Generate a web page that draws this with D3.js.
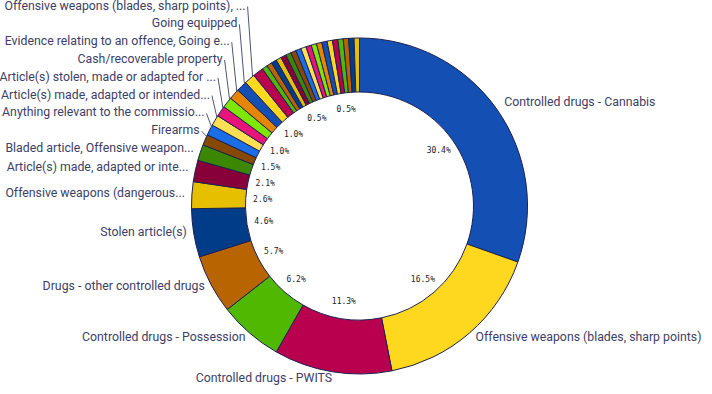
<!DOCTYPE html>
<html>
<head>
<meta charset="utf-8">
<script src="https://cdn.jsdelivr.net/npm/d3@7"></script>
<style>
  body { margin: 0; background: #fff; }
  svg { display: block; }
</style>
</head>
<body>
<div id="chart"></div>
<script>
// search object categories, in chart order (largest first)
const categories = [
    'Controlled drugs - Cannabis',
    'Offensive weapons (blades, sharp points)',
    'Controlled drugs - PWITS',
    'Controlled drugs - Possession',
    'Drugs - other controlled drugs',
    'Stolen article(s)',
    'Offensive weapons (dangerous...',
    'Article(s) made, adapted or inte...',
    'Bladed article, Offensive weapon...',
    'Firearms',
    'Anything relevant to the commissio...',
    'Article(s) made, adapted or intended...',
    'Article(s) stolen, made or adapted for ...',
    'Cash/recoverable property',
    'Evidence relating to an offence, Going e...',
    'Going equipped',
    'Offensive weapons (blades, sharp points), ...',
    'Evidence relating to an offence, Stolen article(s)',
    'Controlled drugs - Cannabis, Firearms',
    'Psychoactive substances',
    'Fireworks',
    'Anything relevant to the commission, Firearms',
    'Article(s) for use in criminal damage',
    'Controlled drugs - Cannabis, Stolen article(s)',
    'Going equipped, Stolen article(s)',
    'Offensive weapons (dangerous), Stolen article(s)',
    'Drugs - other controlled drugs, Firearms',
    'Controlled drugs - Possession, Stolen article(s)',
    'Evidence of wildlife offences',
    'Cash/recoverable property, Stolen article(s)',
    'Bladed article, Firearms',
    'Controlled drugs - PWITS, Cash/recoverable property',
    'Ammunition',
    'Articles for use in fraud',
    'Evidence relating to terrorism',
    'Controlled drugs - Possession, Firearms',
    'Other'
];

// number of searches per category
const counts = [
    59, 32, 22, 12, 11, 9, 5, 4, 3,
    2, 2, 2, 2, 2, 2, 2, 2, 2,
    1, 1, 1, 1, 1, 1, 1, 1, 1, 1, 1, 1, 1, 1, 1, 1, 1, 1, 1
];

const palette = [
    '#1450b4', '#fdd81f', '#b8004f', '#50b800', '#b86400',
    '#003c88', '#e6c000', '#87003a', '#3b8700', '#874900',
    '#1a6ee8', '#ffe052', '#e6147b', '#7ee600', '#e68600'
];

let width = 712,
    height = 394,
    cx = 359.5,
    cy = 206,
    rOuter = 168,
    rInner = 114;

let svg = d3.select('#chart').append('svg')
    .attr('width', width)
    .attr('height', height);

let g = svg.append('g')
    .attr('transform', `translate(${cx}, ${cy})`);

let total = d3.sum(counts);
let data = categories.map((name, i) => ({name: name, count: counts[i]}));

let color = d3.scaleOrdinal()
    .domain(categories)
    .range(palette);

let pie = d3.pie()
    .sort(null)
    .value(d => d.count);

let arc = d3.arc()
    .innerRadius(rInner)
    .outerRadius(rOuter);

let arcs = pie(data);

function polar(r, a) {
    return [r * Math.sin(a), -r * Math.cos(a)];
}

g.append('g').selectAll('path')
    .data(arcs)
    .join('path')
    .attr('d', arc)
    .attr('fill', d => color(d.data.name))
    .attr('stroke', '#1d2150')
    .attr('stroke-width', 1);

// percentage labels inside the ring, pushed clockwise a little or dropped when crowded
let pctFmt = d3.format('.1%');
let labR = 97,
    maxShift = 8 * Math.PI / 180,
    step = 0.2 * Math.PI / 180,
    placed = [];

arcs.forEach(d => {
    let txt = pctFmt(d.data.count / total),
        w = txt.length * 4.8 + 10,
        h = 16,
        mid = (d.startAngle + d.endAngle) / 2;
    for (let s = 0; s <= maxShift; s += step) {
        let a = mid + s;
        if (a > 2 * Math.PI - 0.02) break;
        let [x, y] = polar(labR, a);
        let hit = placed.some(p => Math.abs(p.x - x) < (p.w + w) / 2 && Math.abs(p.y - y) < h);
        if (!hit) {
            placed.push({x: x, y: y, w: w, txt: txt});
            break;
        }
    }
});

g.append('g').selectAll('text')
    .data(placed)
    .join('text')
    .attr('x', d => d.x)
    .attr('y', d => d.y)
    .attr('text-anchor', 'middle')
    .attr('dominant-baseline', 'central')
    .style('font-family', '"DejaVu Sans Mono", monospace')
    .style('font-size', '8px')
    .style('fill', '#222')
    .text(d => d.txt);

// category labels outside the ring
let labelR = 176,
    gap = 17.8;

let outer = arcs.map(d => {
    let mid = (d.startAngle + d.endAngle) / 2;
    let [nx, ny] = polar(labelR, mid);
    let [ex, ey] = polar(rOuter, d.startAngle + 0.85 * (d.endAngle - d.startAngle));
    return {name: d.data.name, mid: mid, nx: nx, ny: ny - 2, ex: ex, ey: ey,
            side: mid < Math.PI ? 'right' : 'left'};
});

let shown = [];

outer.filter(d => d.side === 'right').forEach(d => {
    shown.push({name: d.name, x: d.nx + 1, y: d.ny, anchor: 'start', leader: null});
});

let prevY = Infinity;
outer.filter(d => d.side === 'left')
    .sort((a, b) => a.mid - b.mid)
    .forEach(d => {
        let y = Math.min(d.ny, prevY - gap);
        if (cy + y < 3) return;
        prevY = y;
        if (d.ny - y > 1) {
            let x = d.ex - 7;
            shown.push({name: d.name, x: x, y: y, anchor: 'end',
                        leader: [[x + 2, y + 1], [d.ex, d.ey]]});
        } else {
            shown.push({name: d.name, x: d.nx + 1, y: y, anchor: 'end', leader: null});
        }
    });

g.append('g').selectAll('path')
    .data(shown.filter(d => d.leader))
    .join('path')
    .attr('d', d => d3.line()(d.leader))
    .attr('fill', 'none')
    .attr('stroke', '#50557a')
    .attr('stroke-width', 1);

g.append('g').selectAll('text')
    .data(shown)
    .join('text')
    .attr('x', d => d.x)
    .attr('y', d => d.y)
    .attr('text-anchor', d => d.anchor)
    .attr('dominant-baseline', 'central')
    .style('font-family', 'Roboto, sans-serif')
    .style('font-size', '12.3px')
    .style('fill', '#3c4066')
    .text(d => d.name);
</script>
</body>
</html>
